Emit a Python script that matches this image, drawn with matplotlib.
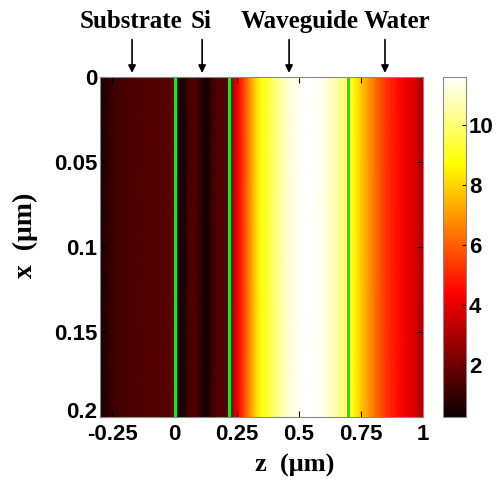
import numpy as np
import matplotlib
matplotlib.use('Agg')
import matplotlib.pyplot as plt
import matplotlib.transforms as mtransforms
from matplotlib.font_manager import FontProperties

# intensity profile across the layers, uniform along x
z_pts = [-0.30, -0.29, -0.27, -0.25, -0.22, -0.18, -0.12, -0.06, -0.01, 0.0,
         0.01, 0.02, 0.035, 0.05, 0.07, 0.09, 0.105, 0.12, 0.135, 0.15,
         0.17, 0.19, 0.21, 0.218, 0.228, 0.24, 0.26, 0.28, 0.30, 0.32,
         0.345, 0.375, 0.41, 0.45, 0.50, 0.55, 0.60, 0.64, 0.68, 0.70,
         0.72, 0.75, 0.78, 0.81, 0.85, 0.89, 0.93, 0.97, 1.0]
intensity = [0.4, 0.7, 0.9, 1.1, 1.25, 1.4, 1.5, 1.55, 1.6, 1.5,
             1.0, 0.5, 0.5, 1.1, 1.5, 1.4, 1.0, 0.5, 0.55, 1.1,
             1.5, 1.5, 1.4, 1.6, 2.4, 3.5, 4.6, 5.6, 6.6, 7.7,
             8.8, 9.4, 10.2, 11.0, 11.5, 11.6, 11.3, 10.7, 10.1, 9.6,
             8.8, 7.8, 7.0, 6.2, 5.3, 4.7, 4.2, 3.7, 2.8]
x_pts = [0.0, 0.2]

# layer interfaces (green lines)
interfaces = [0.0, 0.218, 0.697]

# labels above the plot
layer_names = ['Substrate', 'Si', 'Waveguide', 'Water']
arrow_z = [-0.171, 0.111, 0.461, 0.847]
text_px = [131, 201, 300, 397]

xticks = [-0.25, 0, 0.25, 0.5, 0.75, 1]
xticklabels = ['-0.25', '0', '0.25', '0.5', '0.75', '1']
yticks = [0, 0.05, 0.1, 0.15, 0.2]
yticklabels = ['0', '0.05', '0.1', '0.15', '0.2']
cticks = [2, 4, 6, 8, 10]

W, H = 499, 486
fig = plt.figure(figsize=(W / 100, H / 100), dpi=100)
ax = fig.add_axes([100 / W, 1 - 417 / H, 323 / W, 340 / H])
cax = fig.add_axes([443 / W, 1 - 417 / H, 23 / W, 340 / H])

Z, X = np.meshgrid(z_pts, x_pts)
I = np.vstack([intensity, intensity])
mesh = ax.pcolormesh(Z, X, I, cmap='hot', vmin=0.27, vmax=11.6, shading='gouraud')
ax.set_xlim(-0.3, 1.0)
ax.set_ylim(0.2, 0)

for zi in interfaces:
    ax.axvline(zi, color='#22dd22', lw=2.2)

tick_fp = FontProperties(family='Liberation Sans', weight='bold', size=16)
ax.set_xticks(xticks)
ax.set_xticklabels(xticklabels, fontproperties=tick_fp)
ax.set_yticks(yticks)
ax.set_yticklabels(yticklabels, fontproperties=tick_fp)
ax.tick_params(direction='in', length=4, width=0.8, top=True, right=True)
ax.tick_params(axis='x', pad=5)
ax.tick_params(axis='y', pad=2)
for s in ax.spines.values():
    s.set_color('#888888')
    s.set_linewidth(0.8)

# lift the bottom y label a little, like the reference, so it clears "-0.25"
lift = mtransforms.ScaledTranslation(0, 5 / 72, fig.dpi_scale_trans)
last = ax.get_yticklabels()[-1]
last.set_transform(last.get_transform() + lift)

# axis labels, placed where the reference has them
xl = ax.set_xlabel('z  (\u03bcm)', family='Liberation Serif', weight='bold', size=19)
ax.xaxis.set_label_coords((295 - 100) / 323, -(465 - 417) / 340)
xl.set_va('center')
yl = ax.set_ylabel('x  (\u03bcm)', family='Liberation Serif', weight='bold', size=20)
ax.yaxis.set_label_coords(-(100 - 25) / 323, (417 - 235) / 340)
yl.set_va('center')

cb = fig.colorbar(mesh, cax=cax)
cb.set_ticks(cticks)
cb.ax.tick_params(direction='in', length=3, width=0.8, pad=2)
for t in cb.ax.get_yticklabels():
    t.set_fontproperties(tick_fp)
cb.outline.set_edgecolor('#888888')
cb.outline.set_linewidth(0.8)

for name, za, tx in zip(layer_names, arrow_z, text_px):
    ax.annotate('', xy=(za, 1.012), xycoords=('data', 'axes fraction'),
                xytext=(za, 1.11), textcoords=('data', 'axes fraction'),
                arrowprops=dict(arrowstyle='-|>', color='black', lw=1.2,
                                mutation_scale=11, shrinkA=0, shrinkB=0))
    fig.text(tx / W, 1 - 28 / H, name, ha='center', va='baseline',
             family='Liberation Serif', weight='bold', size=18)

fig.savefig('out.png', dpi=100)
